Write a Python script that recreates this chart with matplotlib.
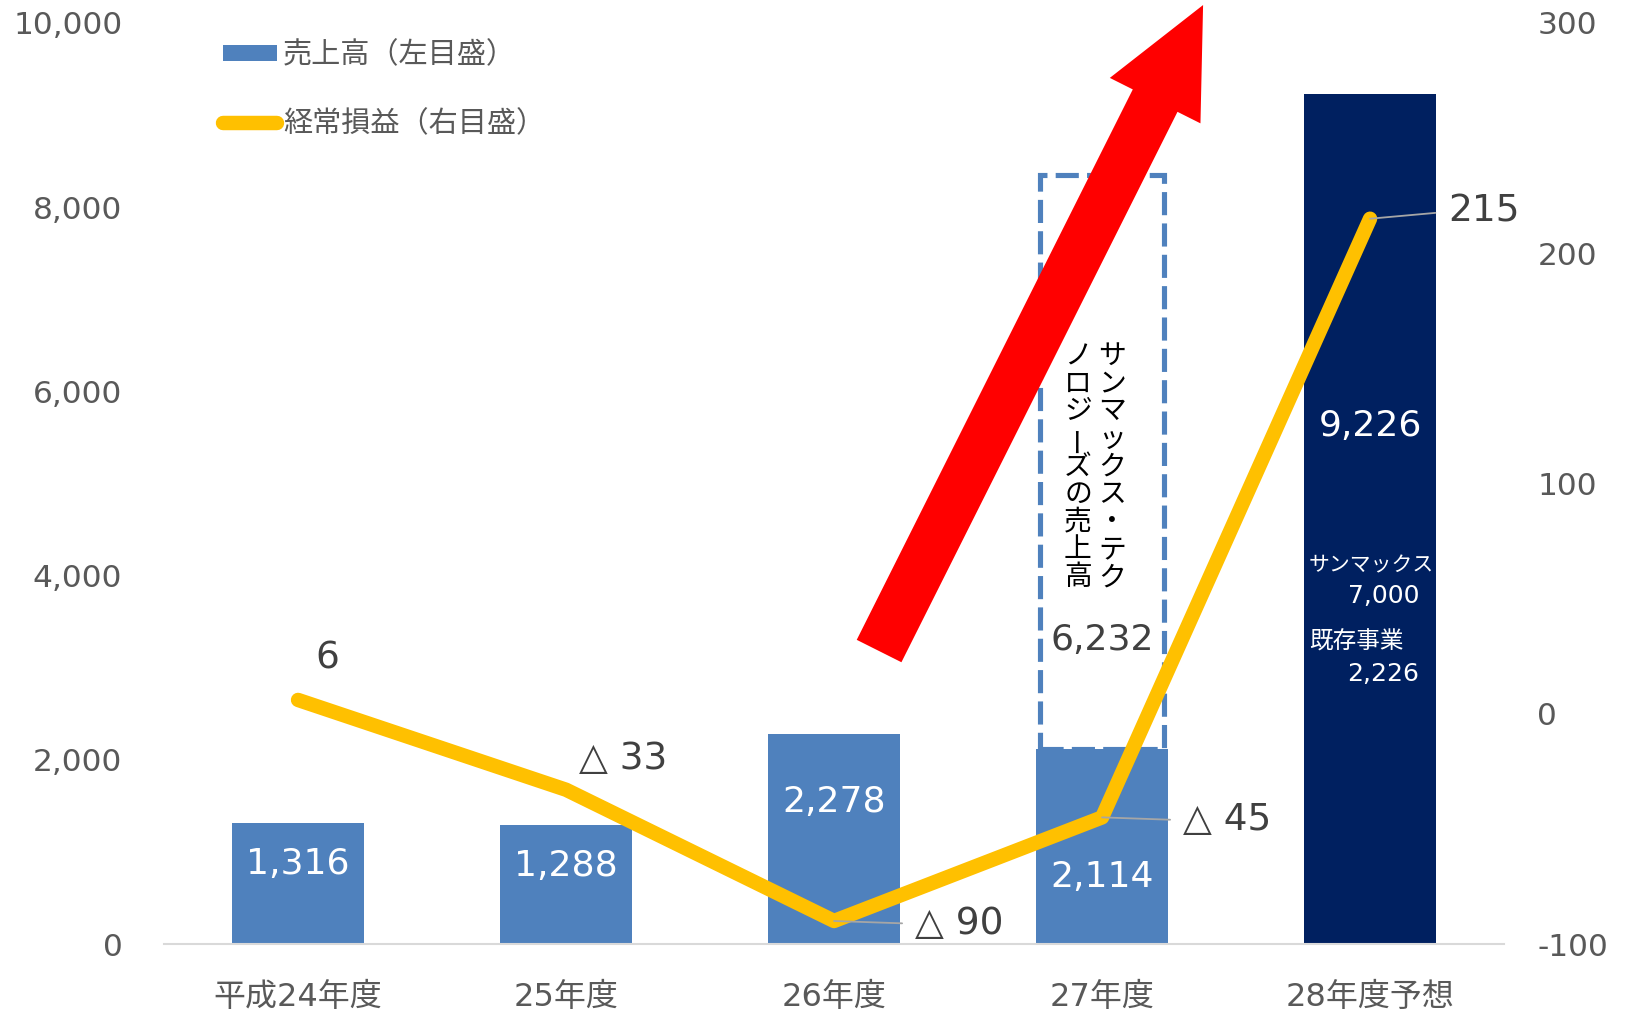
import numpy as np
import matplotlib.pyplot as plt

plt.rcParams['font.family'] = ['DejaVu Sans', 'Noto Sans CJK JP']

# data
years = ['平成24年度', '25年度', '26年度', '27年度', '28年度予想']
sales = [1316, 1288, 2278, 2114, 9226]          # 売上高 (left axis)
profit = [6, -33, -90, -45, 215]                # 経常損益 (right axis)
tech_sales = 6232                               # サンマックス・テクノロジーズ分 (27年度)
sunmax_sales = 7000                             # 28年度内訳
existing_sales = 2226

blue = '#4F81BD'
navy = '#002060'
yellow = '#FFC000'
grey = '#595959'
dark = '#404040'

fig = plt.figure(figsize=(16.26, 10.13), dpi=100)
ax = fig.add_axes([0.1009, 0.0681, 0.8241, 0.9092])
ax2 = ax.twinx()

x = np.arange(len(years))

# bars
bars = ax.bar(x, sales, width=0.49, color=[blue]*4 + [navy], zorder=2)
ax.bar(x[3], tech_sales, bottom=sales[3], width=0.46, fill=False,
       edgecolor=blue, lw=3.7, ls=(0, (4.5, 1.6)), zorder=2)

# bar value labels (white, inside)
label_y = [869, 847, 1542, 727, 5624]
for xi, v, ly in zip(x, sales, label_y):
    ax.text(xi, ly, f'{v:,}', color='white', fontsize=26, ha='center', va='center', zorder=3)
ax.text(x[3], 3301, f'{tech_sales:,}', color=dark, fontsize=26, ha='center', va='center', zorder=3)

# vertical text inside dashed box
col_right = 'サンマックス・テク'
col_left = 'ノロジーズの売上高'
for col, xo in [(col_right, 0.037), (col_left, -0.090)]:
    for k, ch in enumerate(col):
        ax.text(x[3] + xo, 6384 - 300*k, ch, fontsize=20, color='black',
                ha='center', va='center', rotation=90 if ch == 'ー' else 0,
                family='Noto Sans CJK JP', zorder=3)

# breakdown for 28年度
ax.text(3.772, 4115, 'サンマックス', color='white', fontsize=15, ha='left', va='center',
        family='Noto Sans CJK JP', zorder=3)
ax.text(4.183, 3779, f'{sunmax_sales:,}', color='white', fontsize=18, ha='right', va='center', zorder=3)
ax.text(3.772, 3279, '既存事業', color='white', fontsize=17, ha='left', va='center',
        family='Noto Sans CJK JP', zorder=3)
ax.text(4.183, 2932, f'{existing_sales:,}', color='white', fontsize=18, ha='right', va='center', zorder=3)

# big red arrow
ax.annotate('', xy=(3.377, 10195), xytext=(2.168, 3181),
            arrowprops=dict(arrowstyle='simple,head_length=7.7,head_width=7.3,tail_width=3.6',
                            mutation_scale=10, fc='red', ec='none', shrinkA=0, shrinkB=0),
            annotation_clip=False, zorder=4)

# profit line
line, = ax2.plot(x, profit, color=yellow, lw=10.4, solid_capstyle='round', zorder=2)

offsets = [(21, 30), (9, 22), (58, -2), (58, -2), (56, 5)]
leaders = [False, False, True, True, True]
for xi, v, off, lead in zip(x, profit, offsets, leaders):
    txt = f'△ {-v}' if v < 0 else f'{v}'
    kw = {}
    if lead:
        kw['arrowprops'] = dict(arrowstyle='-', color='#A6A6A6', lw=1.3,
                                shrinkA=7, shrinkB=0, relpos=(0, 0.5))
    ax2.annotate(txt, xy=(xi, v), xytext=off, textcoords='offset points',
                 ha='center' if xi == 0 else 'left', va='center',
                 fontsize=27, color=dark, zorder=5, **kw)

# axes
ax.set_xlim(-0.5, 4.5)
ax.set_ylim(0, 10000)
ax2.set_ylim(-100, 300)
lt = list(range(0, 10001, 2000))
ax.set_yticks(lt, [f'{v:,}' for v in lt])
rt = list(range(-100, 301, 100))
ax2.set_yticks(rt, [f'{v}' for v in rt])
ax.set_xticks(x, years)

ax.tick_params(axis='y', length=0, pad=30, labelsize=22.5, labelcolor=grey)
ax.tick_params(axis='x', length=0, pad=27, labelsize=23, labelcolor=grey)
ax2.tick_params(axis='y', length=0, pad=24, labelsize=22.5, labelcolor=grey)

for s in ['top', 'left', 'right']:
    ax.spines[s].set_visible(False)
for s in ax2.spines.values():
    s.set_visible(False)
ax.spines['bottom'].set_color('#D9D9D9')
ax.spines['bottom'].set_linewidth(1.5)

leg = ax2.legend(handles=[bars, line], labels=['売上高（左目盛）', '経常損益（右目盛）'],
                 loc='upper left', bbox_to_anchor=(0.044, 0.98), frameon=False,
                 fontsize=21, handlelength=1.85, handleheight=0.5, handletextpad=0.2,
                 labelspacing=1.4, borderpad=0, borderaxespad=0)
for t in leg.get_texts():
    t.set_color(grey)

fig.savefig('out.png', dpi=100)
